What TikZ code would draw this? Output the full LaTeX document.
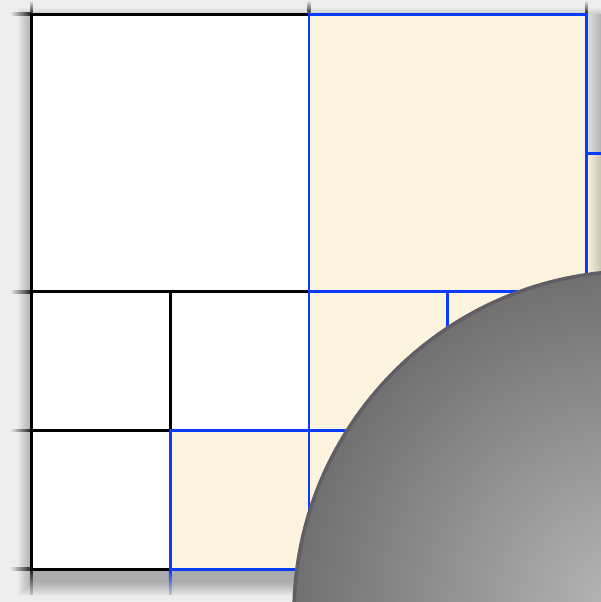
\documentclass[tikz,border=0pt]{standalone}
\definecolor{bgc}{RGB}{238,238,238}
\definecolor{beige}{RGB}{252,244,223}
\definecolor{qblue}{RGB}{10,60,255}
\definecolor{discedge}{RGB}{98,94,102}
\tikzset{
  blackline/.style={draw=black, line width=2.9pt, line cap=rect},
  blueline/.style={draw=qblue, line width=2.9pt, line cap=rect},
  shadowlayer/.style={fill=black, opacity=0.02},
}
\begin{document}
\begin{tikzpicture}[x=1pt,y=-1pt]
\useasboundingbox (0,0) rectangle (601,602);
\clip (0,0) rectangle (601,602);
\fill[bgc] (0,0) rectangle (601,602);
% soft shadow of the panel
\foreach \r in {0,...,14}{
  \fill[shadowlayer] (31.5-\r, 22-\r) rectangle (700, 582+\r);
}
% cells
\fill[white] (31.5,14.3) rectangle (309,569.3);
\fill[beige] (309,14.3) rectangle (586.5,569.3);
\fill[beige] (170.25,430.55) rectangle (309,569.3);
\fill[beige] (586.5,153.05) rectangle (601,569.3);
% right strip darkening
\shade[left color=bgc!95!black, right color=bgc!75!black] (586.5,14.3) rectangle (601,153.05);
\shade[left color=beige, right color=beige!80!black] (586.5,153.05) rectangle (601,300);
% fading ticks outside the panel
\foreach \yy in {14.3,291.8,430.55,569.3}{
  \shade[left color=bgc, right color=black!85] (10,\yy-1.4) rectangle (30.1,\yy+1.4);
}
\foreach \xx in {31.5,309,586.5}{
  \shade[top color=bgc, bottom color=black!80] (\xx-1.4,0) rectangle (\xx+1.4,12.9);
}
\shade[top color=black!85, bottom color=bgc!80!black] (30.1,570.7) rectangle (32.9,594);
\shade[top color=qblue, bottom color=bgc!80!black] (168.85,570.7) rectangle (171.65,594);
% black lines
\draw[blackline] (31.5,14.3) -- (309,14.3);
\draw[blackline] (31.5,14.3) -- (31.5,569.3);
\draw[blackline] (31.5,291.8) -- (309,291.8);
\draw[blackline] (170.25,291.8) -- (170.25,430.55);
\draw[blackline] (31.5,430.55) -- (170.25,430.55);
\draw[blackline] (31.5,569.3) -- (170.25,569.3);
% blue lines
\draw[blueline] (309,14.3) -- (586.5,14.3) -- (586.5,430.55);
\draw[blueline] (309,14.3) -- (309,569.3);
\draw[blueline] (586.5,153.05) -- (601,153.05);
\draw[blueline] (309,291.8) -- (601,291.8);
\draw[blueline] (447.75,291.8) -- (447.75,569.3);
\draw[blueline] (170.25,430.55) -- (601,430.55);
\draw[blueline] (170.25,430.55) -- (170.25,569.3);
\draw[blueline] (170.25,569.3) -- (601,569.3);
% disc
\shade[inner color=black!27, outer color=black!56] (637,614) circle (343pt);
\draw[discedge, line width=3.6pt] (637,614) circle (343pt);
\end{tikzpicture}
\end{document}
